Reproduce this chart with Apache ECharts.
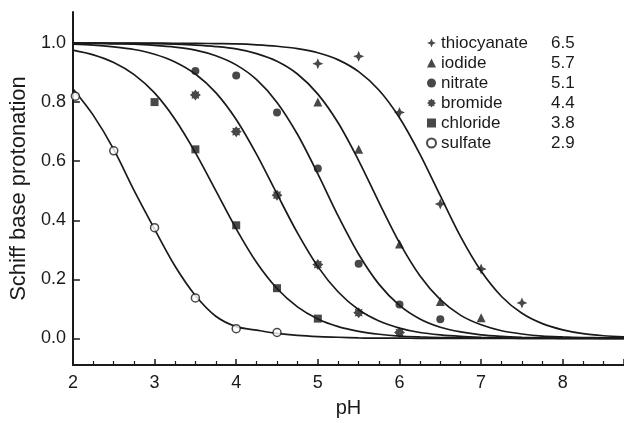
<!DOCTYPE html>
<html>
<head>
<meta charset="utf-8">
<script src="https://cdn.jsdelivr.net/npm/echarts@6/dist/echarts.min.js"></script>
<style>
html,body{margin:0;padding:0;background:#fff;}
#chart{width:624px;height:423px;}
</style>
</head>
<body>
<div id="chart"></div>
<script>
// ---- data ----
const legendNames = ['thiocyanate', 'iodide', 'nitrate', 'bromide', 'chloride', 'sulfate'];
const legendPka = ['6.5', '5.7', '5.1', '4.4', '3.8', '2.9'];
const yTicks = [0, 0.2, 0.4, 0.6, 0.8, 1.0];

// pH grid for the fitted curves
const phGrid = [2.0, 2.25, 2.5, 2.75, 3.0, 3.25, 3.5, 3.75, 4.0, 4.25, 4.5, 4.75, 5.0, 5.25, 5.5, 5.75,
  6.0, 6.25, 6.5, 6.75, 7.0, 7.25, 7.5, 7.75, 8.0, 8.25, 8.5, 8.75];

const thiocyanateFit = [1.0, 1.0, 1.0, 1.0, 1.0, 0.999, 0.999, 0.998, 0.997, 0.994, 0.989, 0.981, 0.967, 0.943, 0.903, 0.840,
  0.747, 0.624, 0.483, 0.344, 0.228, 0.142, 0.085, 0.050, 0.029, 0.016, 0.009, 0.005];
const iodideFit = [1.0, 1.0, 0.999, 0.999, 0.998, 0.996, 0.993, 0.988, 0.980, 0.964, 0.938, 0.895, 0.827, 0.729, 0.602, 0.460,
  0.324, 0.212, 0.131, 0.078, 0.046, 0.026, 0.015, 0.008, 0.005, 0.003, 0.002, 0.001];
const nitrateFit = [0.999, 0.999, 0.997, 0.996, 0.992, 0.986, 0.976, 0.957, 0.926, 0.876, 0.799, 0.691, 0.557, 0.414, 0.285, 0.183,
  0.112, 0.066, 0.038, 0.022, 0.012, 0.007, 0.004, 0.002, 0.001, 0.001, 0, 0];
const bromideFit = [0.996, 0.993, 0.987, 0.978, 0.962, 0.936, 0.895, 0.832, 0.741, 0.623, 0.489, 0.357, 0.243, 0.157, 0.097, 0.059,
  0.035, 0.020, 0.012, 0.007, 0.004, 0.002, 0.001, 0.001, 0, 0, 0, 0];
const chlorideFit = [0.976, 0.960, 0.934, 0.893, 0.831, 0.742, 0.629, 0.5, 0.371, 0.257, 0.169, 0.107, 0.066, 0.040, 0.024, 0.014,
  0.008, 0.005, 0.003, 0.002, 0.001, 0.001, 0, 0, 0, 0, 0, 0];
const sulfateFit = [0.845, 0.755, 0.64, 0.50, 0.37, 0.245, 0.145, 0.075, 0.04, 0.028, 0.017, 0.01, 0.006, 0.004, 0.002, 0.001,
  0.001, 0, 0, 0, 0, 0, 0, 0, 0, 0, 0, 0];

// measured points [pH, protonation]
const thiocyanatePts = [[5.0, 0.93], [5.5, 0.955], [6.0, 0.765], [6.5, 0.455], [7.0, 0.235], [7.5, 0.12]];
const iodidePts = [[5.0, 0.80], [5.5, 0.64], [6.0, 0.32], [6.5, 0.125], [7.0, 0.07]];
const nitratePts = [[3.5, 0.905], [4.0, 0.89], [4.5, 0.765], [5.0, 0.575], [5.5, 0.253], [6.0, 0.115], [6.5, 0.065]];
const bromidePts = [[3.5, 0.824], [4.0, 0.70], [4.5, 0.485], [5.0, 0.25], [5.5, 0.087], [6.0, 0.02]];
const chloridePts = [[3.0, 0.80], [3.5, 0.64], [4.0, 0.383], [4.5, 0.17], [5.0, 0.067]];
const sulfatePts = [[2.03, 0.82], [2.5, 0.635], [3.0, 0.375], [3.5, 0.137], [4.0, 0.033], [4.5, 0.02]];

// ---- build chart ----
const FONT = '"Liberation Sans", Arial, Helvetica, sans-serif';
const INK = '#1a1a1a';
const fits = [thiocyanateFit, iodideFit, nitrateFit, bromideFit, chlorideFit, sulfateFit];
const pts = [thiocyanatePts, iodidePts, nitratePts, bromidePts, chloridePts, sulfatePts];
const symbols = [
  'path://M0,-10 L3,-3 L10,0 L3,3 L0,10 L-3,3 L-10,0 L-3,-3 Z',
  'triangle',
  'circle',
  'path://M0,-10 L3,-6 L7,-7 L6,-3 L10,0 L6,3 L7,7 L3,6 L0,10 L-3,6 L-7,7 L-6,3 L-10,0 L-6,-3 L-7,-7 L-3,-6 Z',
  'rect',
  'circle'
];
const sizes = [11, 9, 8, 11, 8, 8];

const series = [];
fits.forEach((f, i) => {
  series.push({
    name: legendNames[i] + ' fit',
    type: 'line',
    data: phGrid.map((x, k) => [x, f[k]]),
    smooth: 0.3,
    showSymbol: false,
    symbol: 'none',
    lineStyle: { color: INK, width: 1.7 },
    z: 2,
    silent: true
  });
});
pts.forEach((p, i) => {
  const open = legendNames[i] === 'sulfate';
  series.push({
    name: legendNames[i],
    type: 'scatter',
    data: p,
    symbol: symbols[i],
    symbolSize: sizes[i],
    itemStyle: open
      ? { color: '#fff', borderColor: INK, borderWidth: 1.5 }
      : { color: INK, borderColor: INK, borderWidth: 0 },
    z: 5
  });
});

const chart = echarts.init(document.getElementById('chart'), null, { renderer: 'canvas' });
chart.setOption({
  backgroundColor: '#fff',
  animation: false,
  textStyle: { fontFamily: FONT },
  grid: { left: 72, right: 0, top: 12, bottom: 58, containLabel: false },
  legend: {
    orient: 'vertical',
    left: 421,
    top: 29,
    itemWidth: 9,
    itemHeight: 9,
    itemGap: 2,
    data: legendNames,
    selectedMode: false,
    formatter: function (name) {
      return '{n|' + name + '}{v|' + legendPka[legendNames.indexOf(name)] + '}';
    },
    textStyle: {
      fontFamily: FONT, fontSize: 17, color: INK, lineHeight: 18,
      rich: {
        n: { width: 110, fontSize: 17, fontFamily: FONT, color: INK },
        v: { fontSize: 17, fontFamily: FONT, color: INK }
      }
    }
  },
  xAxis: {
    type: 'value',
    min: 2,
    max: 8.75,
    interval: 1,
    name: 'pH',
    nameLocation: 'middle',
    nameGap: 33,
    nameTextStyle: { fontFamily: FONT, fontSize: 20, color: INK },
    axisLine: { onZero: false, lineStyle: { color: INK, width: 2 } },
    axisTick: { inside: true, length: 6, lineStyle: { color: INK, width: 1.5 } },
    minorTick: { show: true, splitNumber: 4, length: 4, lineStyle: { color: INK, width: 1.2 } },
    splitLine: { show: false },
    axisLabel: { fontFamily: FONT, fontSize: 18, color: INK, margin: 9, showMaxLabel: false }
  },
  yAxis: {
    type: 'value',
    min: -0.09,
    max: 1.105,
    name: 'Schiff base protonation',
    nameLocation: 'middle',
    nameGap: 41,
    nameTextStyle: { fontFamily: FONT, fontSize: 22, color: INK },
    axisLine: { onZero: false, lineStyle: { color: INK, width: 2 } },
    axisTick: { inside: true, length: 7, customValues: yTicks, lineStyle: { color: INK, width: 1.5 } },
    splitLine: { show: false },
    axisLabel: {
      fontFamily: FONT, fontSize: 18, color: INK, margin: 7,
      customValues: yTicks,
      formatter: v => Number(v).toFixed(1)
    }
  },
  series: series
});
</script>
</body>
</html>
